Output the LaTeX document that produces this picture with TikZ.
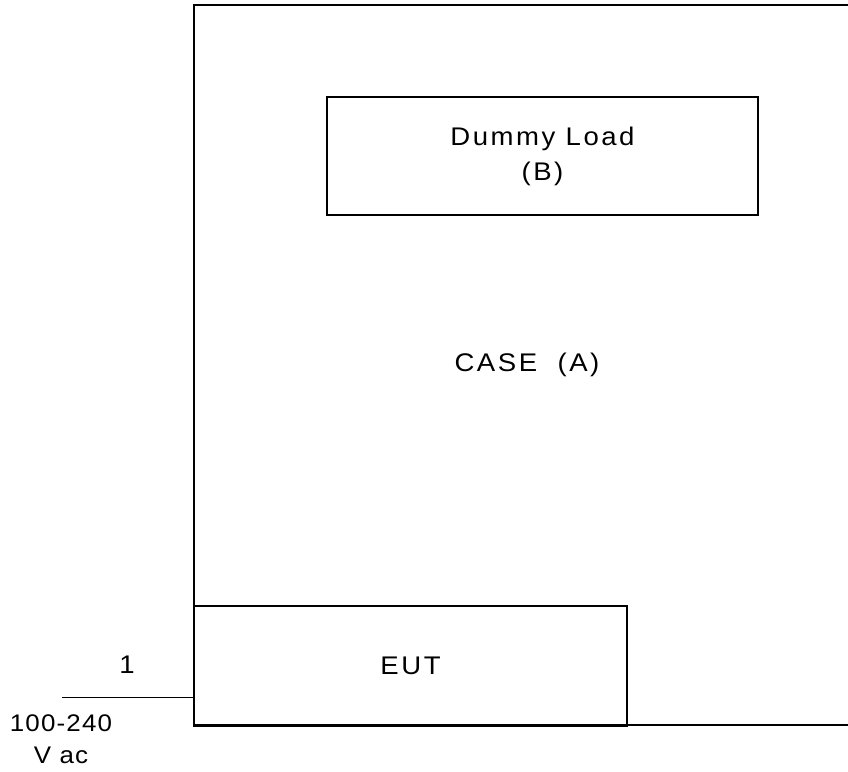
\documentclass[tikz,border=0pt]{standalone}
\usepackage{fontspec}
\setmainfont{Liberation Sans}
\newfontfamily\lsp[LetterSpace=10,FakeStretch=1.08]{Liberation Sans}
\newfontfamily\lsq[LetterSpace=5,FakeStretch=1.08]{Liberation Sans}
\begin{document}
\begin{tikzpicture}[x=1pt,y=-1pt,
  box/.style={draw, line width=2.2pt, rectangle, inner sep=0pt, font=\lsp\fontsize{25.5}{35}\selectfont, align=center},
  lbl/.style={inner sep=0pt, font=\lsq\fontsize{24}{32}\selectfont, align=center},
  wire/.style={line width=0.9pt}]
\useasboundingbox (0,0) rectangle (848,771);
\node[box, minimum width=666pt, minimum height=720pt] (case) at (527,365) {CASE\ \ (A)};
\node[box, minimum width=431pt, minimum height=118pt] (load) at (542.5,156) {Dummy Load\\(B)};
\node[box, minimum width=433pt, minimum height=120pt] (eut) at (410.5,666) {EUT};
\coordinate (feed) at (62,697);
\draw[wire] (feed) -- (feed -| eut.west);
\node[lbl, anchor=base, font=\lsp\fontsize{25.5}{34}\selectfont] (one) at (127,673) {1};
\node[lbl, anchor=north] (volt) at (61,715) {100-240\\V ac};
\end{tikzpicture}
\end{document}
